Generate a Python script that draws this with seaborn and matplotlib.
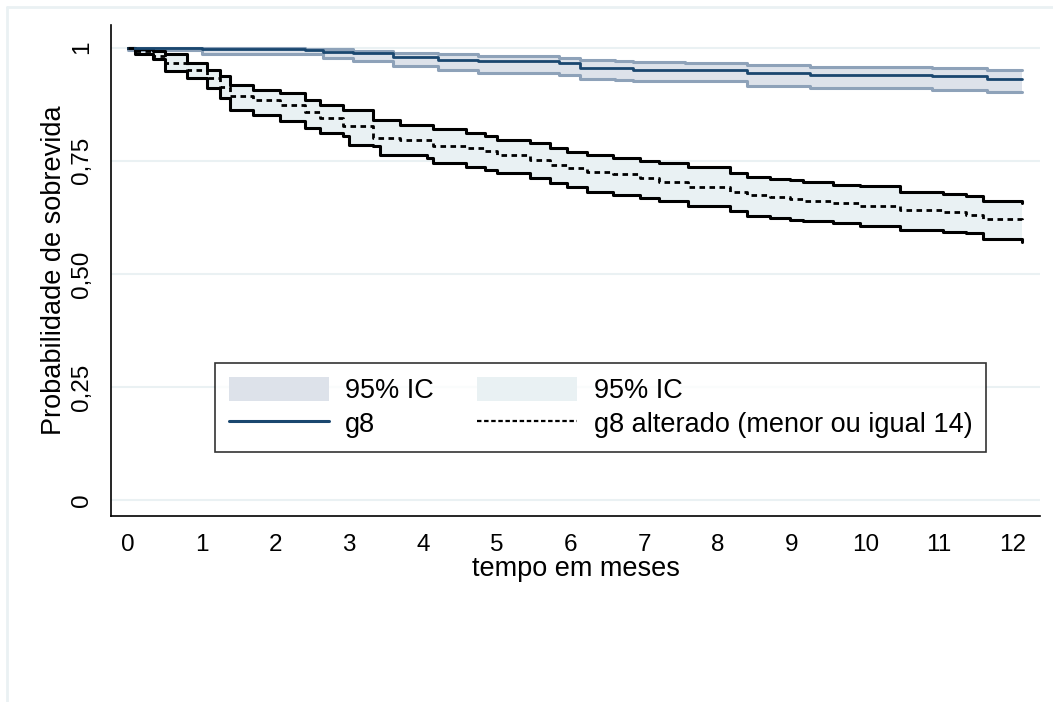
import numpy as np
import pandas as pd
import matplotlib
matplotlib.use("Agg")
import matplotlib.pyplot as plt
import seaborn as sns
from matplotlib.patches import Patch
from matplotlib.lines import Line2D

# ------------------------------------------------------------------
# Dados (lidos do gráfico de Kaplan-Meier)
# ------------------------------------------------------------------
tempo_g8 = [0, 1.0, 2.4, 2.65, 3.05, 3.6, 4.2, 4.75, 5.85, 6.13, 6.6, 6.85,
            7.55, 8.4, 9.25, 10.9, 11.65, 12.12]
surv_g8 = [1.0, 0.998, 0.994, 0.991, 0.987, 0.979, 0.973, 0.970, 0.966, 0.956,
           0.954, 0.951, 0.950, 0.945, 0.939, 0.937, 0.931, 0.931]
sup_g8 = [1.0, 1.0, 0.998, 0.996, 0.993, 0.987, 0.985, 0.981, 0.977, 0.972,
          0.970, 0.968, 0.966, 0.962, 0.957, 0.954, 0.951, 0.951]
inf_g8 = [0.994, 0.985, 0.985, 0.977, 0.970, 0.959, 0.951, 0.945, 0.940, 0.931,
          0.928, 0.926, 0.926, 0.916, 0.911, 0.906, 0.903, 0.903]

tempo_alt = [0, 0.1, 0.34, 0.5, 0.8, 1.07, 1.25, 1.38, 1.7, 2.06, 2.4, 2.6,
             2.92, 3.0, 3.33, 3.42, 3.69, 4.05, 4.14, 4.59, 4.84, 5.0, 5.45,
             5.72, 5.95, 6.22, 6.58, 6.94, 7.2, 7.6, 8.16, 8.39, 8.71, 8.98,
             9.16, 9.56, 9.93, 10.47, 11.06, 11.37, 11.6, 12.12]
surv_alt = [1.0, 0.993, 0.982, 0.965, 0.951, 0.933, 0.914, 0.892, 0.885, 0.874,
            0.857, 0.844, 0.826, 0.826, 0.800, 0.800, 0.796, 0.796, 0.782, 0.778,
            0.772, 0.763, 0.752, 0.741, 0.734, 0.726, 0.720, 0.712, 0.704, 0.693,
            0.682, 0.675, 0.670, 0.665, 0.662, 0.656, 0.650, 0.642, 0.636, 0.631,
            0.621, 0.616]
sup_alt = [1.0, 0.998, 0.993, 0.985, 0.966, 0.951, 0.937, 0.918, 0.907, 0.900,
           0.885, 0.874, 0.863, 0.863, 0.841, 0.841, 0.830, 0.830, 0.820, 0.812,
           0.805, 0.796, 0.789, 0.778, 0.770, 0.763, 0.757, 0.750, 0.745, 0.737,
           0.723, 0.715, 0.709, 0.707, 0.704, 0.697, 0.695, 0.682, 0.677, 0.673,
           0.662, 0.656]
inf_alt = [1.0, 0.985, 0.975, 0.948, 0.933, 0.911, 0.889, 0.863, 0.852, 0.837,
           0.822, 0.811, 0.804, 0.785, 0.782, 0.763, 0.763, 0.756, 0.745, 0.737,
           0.730, 0.723, 0.712, 0.701, 0.692, 0.682, 0.675, 0.667, 0.662, 0.649,
           0.638, 0.629, 0.623, 0.620, 0.617, 0.612, 0.606, 0.597, 0.593, 0.590,
           0.577, 0.571]

y_ticks = [0, 0.25, 0.5, 0.75, 1]
y_labels = ["0", "0,25", "0,50", "0,75", "1"]
x_ticks = list(range(13))

# ------------------------------------------------------------------
# Estilo
# ------------------------------------------------------------------
sns.set_style("white")
plt.rcParams["font.family"] = ["Liberation Sans", "DejaVu Sans"]
plt.rcParams["text.color"] = "black"
plt.rcParams["axes.labelcolor"] = "black"
plt.rcParams["xtick.color"] = "black"
plt.rcParams["ytick.color"] = "black"

AZUL = "#1a476f"
AZUL_IC = "#8ea2b9"
AZUL_FILL = "#dde2ea"
PRETO_FILL = "#e9f1f3"
GRADE = "#eaf1f3"

df_g8 = pd.DataFrame({"tempo": tempo_g8, "surv": surv_g8, "sup": sup_g8, "inf": inf_g8})
df_alt = pd.DataFrame({"tempo": tempo_alt, "surv": surv_alt, "sup": sup_alt, "inf": inf_alt})

fig = plt.figure(figsize=(10.53, 7.02), dpi=100)
ax = fig.add_axes([0.1054, 0.265, 0.8823, 0.6994])

# faixas de IC
ax.fill_between(df_g8["tempo"], df_g8["inf"], df_g8["sup"], step="post", color=AZUL_FILL, lw=0, zorder=1)
ax.fill_between(df_alt["tempo"], df_alt["inf"], df_alt["sup"], step="post", color=PRETO_FILL, lw=0, zorder=1)

for col in ["sup", "inf"]:
    sns.lineplot(data=df_g8, x="tempo", y=col, ax=ax, color=AZUL_IC, lw=2.2,
                 drawstyle="steps-post", estimator=None, sort=False, zorder=2)
    sns.lineplot(data=df_alt, x="tempo", y=col, ax=ax, color="black", lw=2.2,
                 drawstyle="steps-post", estimator=None, sort=False, zorder=3)

sns.lineplot(data=df_g8, x="tempo", y="surv", ax=ax, color=AZUL, lw=2.0,
             drawstyle="steps-post", estimator=None, sort=False, zorder=4)
sns.lineplot(data=df_alt, x="tempo", y="surv", ax=ax, color="black", lw=2.0,
             linestyle=(0, (2, 1.6)), drawstyle="steps-post", estimator=None,
             sort=False, zorder=4)

# eixos
ax.set_xlim(-0.23, 12.37)
ax.set_ylim(-0.035, 1.05)
ax.set_yticks(y_ticks)
ax.set_yticklabels(y_labels, rotation=90, va="center")
ax.set_xticks(x_ticks)
ax.set_xticklabels([str(v) for v in x_ticks])
ax.tick_params(axis="both", direction="out", length=7, width=1.2, color="black",
               labelsize=17.5, pad=6)
ax.yaxis.grid(True, color=GRADE, lw=1.5)
ax.set_axisbelow(True)
for lado in ["top", "right"]:
    ax.spines[lado].set_visible(False)
for lado in ["left", "bottom"]:
    ax.spines[lado].set_color("black")
    ax.spines[lado].set_linewidth(1.2)

ax.set_xlabel("tempo em meses", fontsize=19.5, labelpad=0)
ax.set_ylabel("Probabilidade de sobrevida", fontsize=19.5, labelpad=3)

# legenda
handles = [
    Patch(facecolor=AZUL_FILL, edgecolor="none"),
    Line2D([], [], color=AZUL, lw=2.2),
    Patch(facecolor=PRETO_FILL, edgecolor="none"),
    Line2D([], [], color="black", lw=1.6, linestyle=(0, (2, 1.2))),
]
labels = ["95% IC", "g8", "95% IC", "g8 alterado (menor ou igual 14)"]
leg = ax.legend(handles, labels, ncol=2, loc="upper left",
                bbox_to_anchor=(0.112, 0.3116),
                fontsize=19.5, frameon=True, fancybox=False, handlelength=3.7,
                handleheight=1.0, handletextpad=0.6, labelspacing=0.25,
                columnspacing=1.6, borderpad=0.5, borderaxespad=0)
leg.get_frame().set_edgecolor("black")
leg.get_frame().set_linewidth(1.2)

# moldura externa (região do gráfico, estilo Stata)
fig.add_artist(Line2D([7 / 1053, 1.0], [1 - 7 / 702, 1 - 7 / 702], color=GRADE, lw=2,
                      transform=fig.transFigure))
fig.add_artist(Line2D([7 / 1053, 7 / 1053], [0, 1 - 7 / 702], color=GRADE, lw=2,
                      transform=fig.transFigure))

fig.savefig("out.png", dpi=100)
